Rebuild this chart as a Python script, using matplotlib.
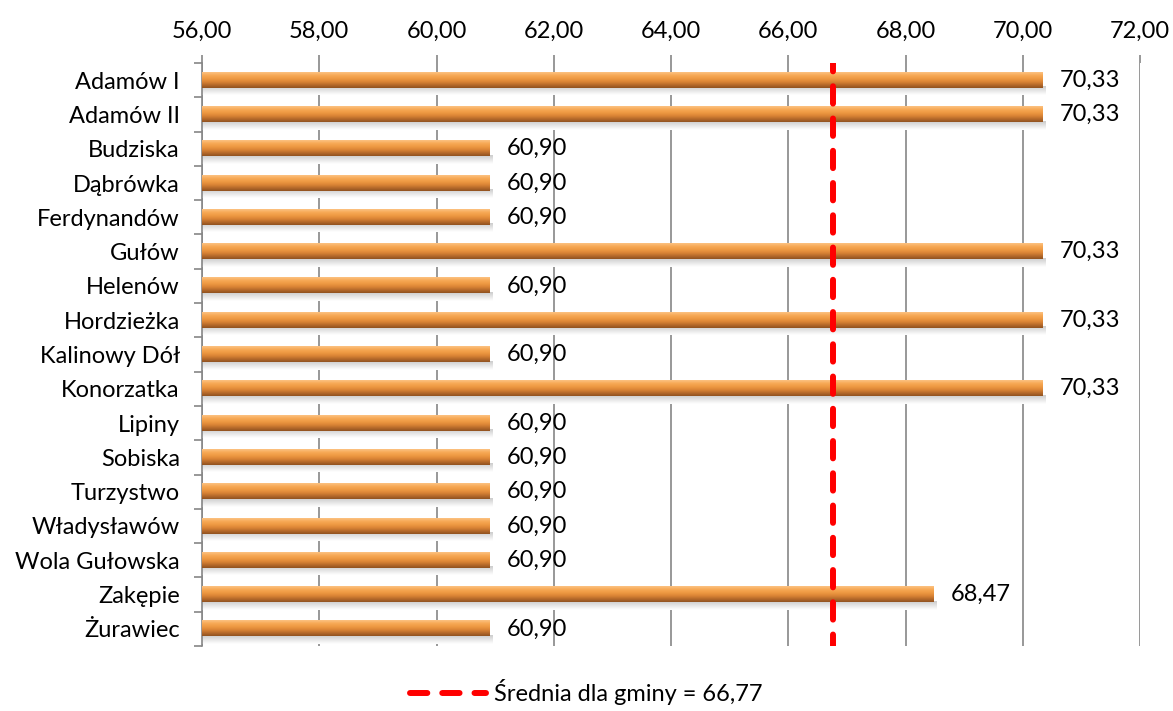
import matplotlib.pyplot as plt
import numpy as np
from matplotlib.colors import LinearSegmentedColormap
from matplotlib.lines import Line2D

names = ["Adamów I", "Adamów II", "Budziska", "Dąbrówka", "Ferdynandów", "Gułów",
         "Helenów", "Hordzieżka", "Kalinowy Dół", "Konorzatka", "Lipiny", "Sobiska",
         "Turzystwo", "Władysławów", "Wola Gułowska", "Zakępie", "Żurawiec"]
values = [70.33, 70.33, 60.90, 60.90, 60.90, 70.33, 60.90, 70.33, 60.90, 70.33,
          60.90, 60.90, 60.90, 60.90, 60.90, 68.47, 60.90]
mean_value = 66.77
x_ticks = [56, 58, 60, 62, 64, 66, 68, 70, 72]

plt.rcParams["font.family"] = ["Lato", "DejaVu Sans"]
FS = 17

fig = plt.figure(figsize=(11.73, 7.11), dpi=100)
ax = fig.add_axes([0.1722, 0.0914, 0.7997, 0.82])

n = len(names)
ys = np.arange(n)
h = 0.44
x0 = 56

# vertical shading: light top, orange middle, brown bottom
bar_cmap = LinearSegmentedColormap.from_list(
    "bar", ["#fcc383", "#f7a955", "#ef9a43", "#dc8636", "#b86b2b", "#8f5220"])
grad = np.linspace(0, 1, 64).reshape(-1, 1)
shadow = np.linspace(0.7, 0, 32).reshape(-1, 1)
shadow_cmap = LinearSegmentedColormap.from_list("sh", ["#ffffff", "#b5b5b5"])

for y, v in zip(ys, values):
    # soft drop shadow under each bar
    ax.imshow(shadow, cmap=shadow_cmap, vmin=0, vmax=1, aspect="auto",
              interpolation="bicubic", extent=(x0, v + 0.05, y + h / 2 + 0.22, y + h / 2 - 0.02),
              zorder=2)
    ax.imshow(grad, cmap=bar_cmap, aspect="auto", interpolation="bicubic",
              extent=(x0, v, y + h / 2, y - h / 2), zorder=3)
    ax.text(v + 0.3, y, f"{v:.2f}".replace(".", ","), va="center", ha="left",
            fontsize=FS, color="black", zorder=5)

dash = (0, (2.9, 2.5))
ax.plot([mean_value, mean_value], [-0.5, n - 0.5], color="#ff0000", lw=4.3,
        ls=(1.5, (2.9, 2.5)), dash_capstyle="round", zorder=4)

ax.set_xlim(56, 72)
ax.set_ylim(n - 0.5, -0.5)
ax.set_xticks(x_ticks)
ax.set_xticklabels([f"{t:.2f}".replace(".", ",") for t in x_ticks], fontsize=FS)
ax.xaxis.tick_top()
ax.tick_params(axis="x", length=6, color="#868686", width=1.2, pad=9)
ax.grid(axis="x", color="#868686", lw=1.2, zorder=1)

ax.set_yticks(ys)
ax.set_yticklabels(names, fontsize=FS)
ax.set_yticks(np.arange(-0.5, n, 1), minor=True)
ax.tick_params(axis="y", which="major", length=0, pad=16)
ax.tick_params(axis="y", which="minor", length=6, width=1.2, color="#868686")

for side in ("top", "right", "bottom"):
    ax.spines[side].set_visible(False)
ax.spines["left"].set_color("#868686")
ax.spines["left"].set_linewidth(1.2)

handle = Line2D([], [], color="#ff0000", lw=4.3, ls=dash, dash_capstyle="round")
fig.legend([handle], ["Średnia dla gminy = 66,77"], loc="lower center",
           bbox_to_anchor=(0.5, -0.022), frameon=False, fontsize=FS,
           handlelength=3.2, handletextpad=0.35)

fig.savefig("out.png", dpi=100)
